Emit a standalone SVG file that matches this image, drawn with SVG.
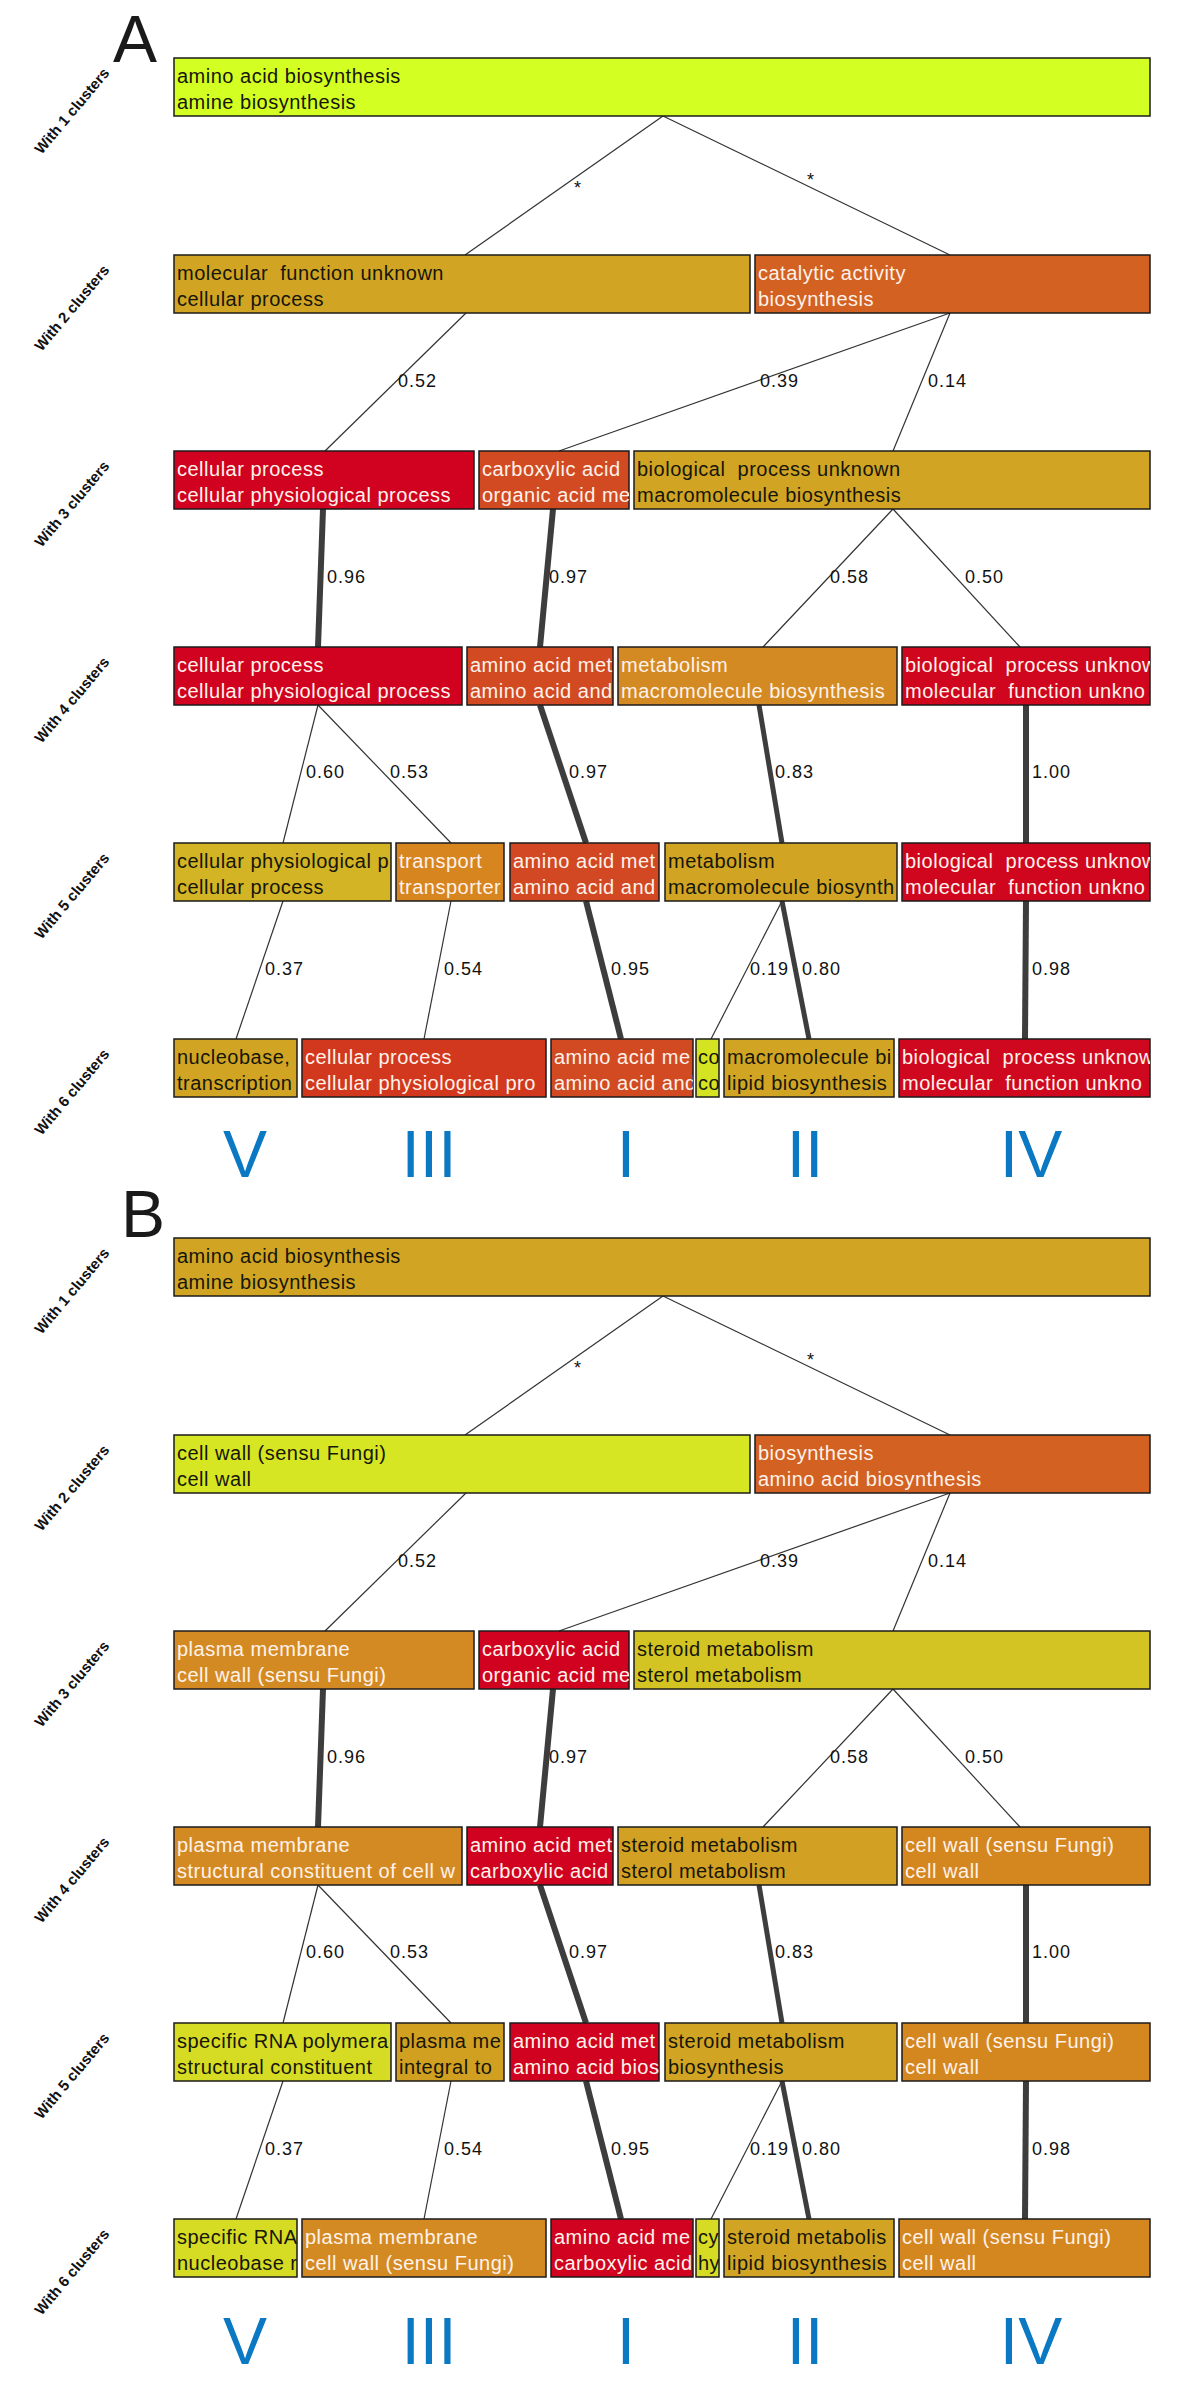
<svg xmlns="http://www.w3.org/2000/svg" width="1200" height="2381" viewBox="0 0 1200 2381">
<style>
.n rect{stroke:#1b1b1b;stroke-width:1.5}
.t{font-family:"Liberation Sans",Arial,sans-serif;font-size:20px;letter-spacing:0.5px;white-space:pre}
.w{fill:#fff2ea}
.d{fill:#16160a}
.thin{stroke:#333;stroke-width:1.2;fill:none}
.thick{stroke:#3d3d3d;stroke-width:6;fill:none}
.mid{stroke:#3d3d3d;stroke-width:5;fill:none}
.e{font-family:"Liberation Sans",Arial,sans-serif;font-size:18px;letter-spacing:1px;fill:#111}
.rl{font-family:"Liberation Sans",Arial,sans-serif;font-size:15px;font-weight:bold;fill:#111;text-anchor:middle}
.big{font-family:"Liberation Sans",Arial,sans-serif;font-size:66px;fill:#1a1a1a}
.rom{font-family:"Liberation Sans",Arial,sans-serif;font-size:66px;fill:#0a78c2;text-anchor:middle}
</style>

<!-- Panel labels -->
<text class="big" x="113" y="62">A</text>
<text class="big" x="121" y="1237">B</text>

<!-- Row labels A -->
<g id="rowlabels-A">
<g transform="translate(72,111) rotate(-50)"><text class="rl" y="5">With 1 clusters</text></g>
<g transform="translate(72,308) rotate(-50)"><text class="rl" y="5">With 2 clusters</text></g>
<g transform="translate(72,504) rotate(-50)"><text class="rl" y="5">With 3 clusters</text></g>
<g transform="translate(72,700) rotate(-50)"><text class="rl" y="5">With 4 clusters</text></g>
<g transform="translate(72,896) rotate(-50)"><text class="rl" y="5">With 5 clusters</text></g>
<g transform="translate(72,1092) rotate(-50)"><text class="rl" y="5">With 6 clusters</text></g>
</g>
<g id="rowlabels-B" transform="translate(0,1180)">
<g transform="translate(72,111) rotate(-50)"><text class="rl" y="5">With 1 clusters</text></g>
<g transform="translate(72,308) rotate(-50)"><text class="rl" y="5">With 2 clusters</text></g>
<g transform="translate(72,504) rotate(-50)"><text class="rl" y="5">With 3 clusters</text></g>
<g transform="translate(72,700) rotate(-50)"><text class="rl" y="5">With 4 clusters</text></g>
<g transform="translate(72,896) rotate(-50)"><text class="rl" y="5">With 5 clusters</text></g>
<g transform="translate(72,1092) rotate(-50)"><text class="rl" y="5">With 6 clusters</text></g>
</g>

<!-- Connectors A -->
<g id="connectors-A">
<line class="thin" x1="663" y1="116" x2="465" y2="255"/>
<line class="thin" x1="663" y1="116" x2="950" y2="255"/>
<line class="thin" x1="466" y1="313" x2="325" y2="451"/>
<line class="thin" x1="950" y1="313" x2="559" y2="451"/>
<line class="thin" x1="950" y1="313" x2="893" y2="451"/>
<line class="thick" x1="323" y1="509" x2="318" y2="647"/>
<line class="thick" x1="553" y1="509" x2="540" y2="647"/>
<line class="thin" x1="893" y1="509" x2="763" y2="647"/>
<line class="thin" x1="893" y1="509" x2="1020" y2="647"/>
<line class="thin" x1="318" y1="705" x2="283" y2="843"/>
<line class="thin" x1="318" y1="705" x2="451" y2="843"/>
<line class="thick" x1="540" y1="705" x2="586" y2="843"/>
<line class="mid" x1="759" y1="705" x2="782" y2="843"/>
<line class="thick" x1="1026" y1="705" x2="1026" y2="843"/>
<line class="thin" x1="283" y1="901" x2="236" y2="1039"/>
<line class="thin" x1="451" y1="901" x2="424" y2="1039"/>
<line class="thick" x1="586" y1="901" x2="621" y2="1039"/>
<line class="thin" x1="782" y1="901" x2="711" y2="1039"/>
<line class="mid" x1="782" y1="901" x2="809" y2="1039"/>
<line class="thick" x1="1026" y1="901" x2="1025" y2="1039"/>
<text class="e" x="574" y="194">*</text>
<text class="e" x="807" y="186">*</text>
<text class="e" x="398" y="387">0.52</text>
<text class="e" x="760" y="387">0.39</text>
<text class="e" x="928" y="387">0.14</text>
<text class="e" x="327" y="583">0.96</text>
<text class="e" x="549" y="583">0.97</text>
<text class="e" x="830" y="583">0.58</text>
<text class="e" x="965" y="583">0.50</text>
<text class="e" x="306" y="778">0.60</text>
<text class="e" x="390" y="778">0.53</text>
<text class="e" x="569" y="778">0.97</text>
<text class="e" x="775" y="778">0.83</text>
<text class="e" x="1032" y="778">1.00</text>
<text class="e" x="265" y="975">0.37</text>
<text class="e" x="444" y="975">0.54</text>
<text class="e" x="611" y="975">0.95</text>
<text class="e" x="750" y="975">0.19</text>
<text class="e" x="802" y="975">0.80</text>
<text class="e" x="1032" y="975">0.98</text>
</g>

<!-- Connectors B -->
<g id="connectors-B" transform="translate(0,1180)">
<line class="thin" x1="663" y1="116" x2="465" y2="255"/>
<line class="thin" x1="663" y1="116" x2="950" y2="255"/>
<line class="thin" x1="466" y1="313" x2="325" y2="451"/>
<line class="thin" x1="950" y1="313" x2="559" y2="451"/>
<line class="thin" x1="950" y1="313" x2="893" y2="451"/>
<line class="thick" x1="323" y1="509" x2="318" y2="647"/>
<line class="thick" x1="553" y1="509" x2="540" y2="647"/>
<line class="thin" x1="893" y1="509" x2="763" y2="647"/>
<line class="thin" x1="893" y1="509" x2="1020" y2="647"/>
<line class="thin" x1="318" y1="705" x2="283" y2="843"/>
<line class="thin" x1="318" y1="705" x2="451" y2="843"/>
<line class="thick" x1="540" y1="705" x2="586" y2="843"/>
<line class="mid" x1="759" y1="705" x2="782" y2="843"/>
<line class="thick" x1="1026" y1="705" x2="1026" y2="843"/>
<line class="thin" x1="283" y1="901" x2="236" y2="1039"/>
<line class="thin" x1="451" y1="901" x2="424" y2="1039"/>
<line class="thick" x1="586" y1="901" x2="621" y2="1039"/>
<line class="thin" x1="782" y1="901" x2="711" y2="1039"/>
<line class="mid" x1="782" y1="901" x2="809" y2="1039"/>
<line class="thick" x1="1026" y1="901" x2="1025" y2="1039"/>
<text class="e" x="574" y="194">*</text>
<text class="e" x="807" y="186">*</text>
<text class="e" x="398" y="387">0.52</text>
<text class="e" x="760" y="387">0.39</text>
<text class="e" x="928" y="387">0.14</text>
<text class="e" x="327" y="583">0.96</text>
<text class="e" x="549" y="583">0.97</text>
<text class="e" x="830" y="583">0.58</text>
<text class="e" x="965" y="583">0.50</text>
<text class="e" x="306" y="778">0.60</text>
<text class="e" x="390" y="778">0.53</text>
<text class="e" x="569" y="778">0.97</text>
<text class="e" x="775" y="778">0.83</text>
<text class="e" x="1032" y="778">1.00</text>
<text class="e" x="265" y="975">0.37</text>
<text class="e" x="444" y="975">0.54</text>
<text class="e" x="611" y="975">0.95</text>
<text class="e" x="750" y="975">0.19</text>
<text class="e" x="802" y="975">0.80</text>
<text class="e" x="1032" y="975">0.98</text>
</g>

<!-- Nodes A -->
<g id="nodes-A">
<g id="A-r1-1" class="n"><rect x="174" y="58" width="976" height="58" fill="#d4ff22"/><svg x="174" y="58" width="976" height="58"><text class="t d" x="3" y="25">amino acid biosynthesis</text><text class="t d" x="3" y="51">amine biosynthesis</text></svg></g>

<g id="A-r2-1" class="n"><rect x="174" y="255" width="576" height="58" fill="#d1a523"/><svg x="174" y="255" width="576" height="58"><text class="t d" x="3" y="25">molecular  function unknown</text><text class="t d" x="3" y="51">cellular process</text></svg></g>
<g id="A-r2-2" class="n"><rect x="755" y="255" width="395" height="58" fill="#d26122"/><svg x="755" y="255" width="395" height="58"><text class="t w" x="3" y="25">catalytic activity</text><text class="t w" x="3" y="51">biosynthesis</text></svg></g>

<g id="A-r3-1" class="n"><rect x="174" y="451" width="300" height="58" fill="#d0021f"/><svg x="174" y="451" width="300" height="58"><text class="t w" x="3" y="25">cellular process</text><text class="t w" x="3" y="51">cellular physiological process</text></svg></g>
<g id="A-r3-2" class="n"><rect x="479" y="451" width="150" height="58" fill="#d24a22"/><svg x="479" y="451" width="150" height="58"><text class="t w" x="3" y="25">carboxylic acid</text><text class="t w" x="3" y="51">organic acid me</text></svg></g>
<g id="A-r3-3" class="n"><rect x="634" y="451" width="516" height="58" fill="#d1a523"/><svg x="634" y="451" width="516" height="58"><text class="t d" x="3" y="25">biological  process unknown</text><text class="t d" x="3" y="51">macromolecule biosynthesis</text></svg></g>

<g id="A-r4-1" class="n"><rect x="174" y="647" width="288" height="58" fill="#d0021f"/><svg x="174" y="647" width="288" height="58"><text class="t w" x="3" y="25">cellular process</text><text class="t w" x="3" y="51">cellular physiological process</text></svg></g>
<g id="A-r4-2" class="n"><rect x="467" y="647" width="146" height="58" fill="#d24a22"/><svg x="467" y="647" width="146" height="58"><text class="t w" x="3" y="25">amino acid met</text><text class="t w" x="3" y="51">amino acid and</text></svg></g>
<g id="A-r4-3" class="n"><rect x="618" y="647" width="279" height="58" fill="#d48a22"/><svg x="618" y="647" width="279" height="58"><text class="t w" x="3" y="25">metabolism</text><text class="t w" x="3" y="51">macromolecule biosynthesis</text></svg></g>
<g id="A-r4-4" class="n"><rect x="902" y="647" width="248" height="58" fill="#d0061f"/><svg x="902" y="647" width="248" height="58"><text class="t w" x="3" y="25">biological  process unknow</text><text class="t w" x="3" y="51">molecular  function unkno</text></svg></g>

<g id="A-r5-1" class="n"><rect x="174" y="843" width="217" height="58" fill="#d2b424"/><svg x="174" y="843" width="217" height="58"><text class="t d" x="3" y="25">cellular physiological p</text><text class="t d" x="3" y="51">cellular process</text></svg></g>
<g id="A-r5-2" class="n"><rect x="396" y="843" width="108" height="58" fill="#d6851f"/><svg x="396" y="843" width="108" height="58"><text class="t w" x="3" y="25">transport</text><text class="t w" x="3" y="51">transporter</text></svg></g>
<g id="A-r5-3" class="n"><rect x="510" y="843" width="149" height="58" fill="#d24822"/><svg x="510" y="843" width="149" height="58"><text class="t w" x="3" y="25">amino acid met</text><text class="t w" x="3" y="51">amino acid and</text></svg></g>
<g id="A-r5-4" class="n"><rect x="665" y="843" width="232" height="58" fill="#d1a523"/><svg x="665" y="843" width="232" height="58"><text class="t d" x="3" y="25">metabolism</text><text class="t d" x="3" y="51">macromolecule biosynth</text></svg></g>
<g id="A-r5-5" class="n"><rect x="902" y="843" width="248" height="58" fill="#d0061f"/><svg x="902" y="843" width="248" height="58"><text class="t w" x="3" y="25">biological  process unknow</text><text class="t w" x="3" y="51">molecular  function unkno</text></svg></g>

<g id="A-r6-1" class="n"><rect x="174" y="1039" width="123" height="58" fill="#d1a523"/><svg x="174" y="1039" width="123" height="58"><text class="t d" x="3" y="25">nucleobase,</text><text class="t d" x="3" y="51">transcription</text></svg></g>
<g id="A-r6-2" class="n"><rect x="302" y="1039" width="244" height="58" fill="#d2381e"/><svg x="302" y="1039" width="244" height="58"><text class="t w" x="3" y="25">cellular process</text><text class="t w" x="3" y="51">cellular physiological pro</text></svg></g>
<g id="A-r6-3" class="n"><rect x="551" y="1039" width="142" height="58" fill="#d24a22"/><svg x="551" y="1039" width="142" height="58"><text class="t w" x="3" y="25">amino acid me</text><text class="t w" x="3" y="51">amino acid and</text></svg></g>
<g id="A-r6-4" class="n"><rect x="696" y="1039" width="23" height="58" fill="#d4e322"/><svg x="696" y="1039" width="23" height="58"><text class="t d" x="2" y="25">co</text><text class="t d" x="2" y="51">co</text></svg></g>
<g id="A-r6-5" class="n"><rect x="724" y="1039" width="170" height="58" fill="#d1a523"/><svg x="724" y="1039" width="170" height="58"><text class="t d" x="3" y="25">macromolecule bi</text><text class="t d" x="3" y="51">lipid biosynthesis</text></svg></g>
<g id="A-r6-6" class="n"><rect x="899" y="1039" width="251" height="58" fill="#d0081f"/><svg x="899" y="1039" width="251" height="58"><text class="t w" x="3" y="25">biological  process unknow</text><text class="t w" x="3" y="51">molecular  function unkno</text></svg></g>
</g>

<!-- Nodes B -->
<g id="nodes-B">
<g id="B-r1-1" class="n"><rect x="174" y="1238" width="976" height="58" fill="#d1a523"/><svg x="174" y="1238" width="976" height="58"><text class="t d" x="3" y="25">amino acid biosynthesis</text><text class="t d" x="3" y="51">amine biosynthesis</text></svg></g>

<g id="B-r2-1" class="n"><rect x="174" y="1435" width="576" height="58" fill="#d6e622"/><svg x="174" y="1435" width="576" height="58"><text class="t d" x="3" y="25">cell wall (sensu Fungi)</text><text class="t d" x="3" y="51">cell wall</text></svg></g>
<g id="B-r2-2" class="n"><rect x="755" y="1435" width="395" height="58" fill="#d26122"/><svg x="755" y="1435" width="395" height="58"><text class="t w" x="3" y="25">biosynthesis</text><text class="t w" x="3" y="51">amino acid biosynthesis</text></svg></g>

<g id="B-r3-1" class="n"><rect x="174" y="1631" width="300" height="58" fill="#d48a22"/><svg x="174" y="1631" width="300" height="58"><text class="t w" x="3" y="25">plasma membrane</text><text class="t w" x="3" y="51">cell wall (sensu Fungi)</text></svg></g>
<g id="B-r3-2" class="n"><rect x="479" y="1631" width="150" height="58" fill="#d0021f"/><svg x="479" y="1631" width="150" height="58"><text class="t w" x="3" y="25">carboxylic acid</text><text class="t w" x="3" y="51">organic acid me</text></svg></g>
<g id="B-r3-3" class="n"><rect x="634" y="1631" width="516" height="58" fill="#d4c423"/><svg x="634" y="1631" width="516" height="58"><text class="t d" x="3" y="25">steroid metabolism</text><text class="t d" x="3" y="51">sterol metabolism</text></svg></g>

<g id="B-r4-1" class="n"><rect x="174" y="1827" width="288" height="58" fill="#d48a22"/><svg x="174" y="1827" width="288" height="58"><text class="t w" x="3" y="25">plasma membrane</text><text class="t w" x="3" y="51">structural constituent of cell w</text></svg></g>
<g id="B-r4-2" class="n"><rect x="467" y="1827" width="146" height="58" fill="#d0021f"/><svg x="467" y="1827" width="146" height="58"><text class="t w" x="3" y="25">amino acid met</text><text class="t w" x="3" y="51">carboxylic acid</text></svg></g>
<g id="B-r4-3" class="n"><rect x="618" y="1827" width="279" height="58" fill="#d2a022"/><svg x="618" y="1827" width="279" height="58"><text class="t d" x="3" y="25">steroid metabolism</text><text class="t d" x="3" y="51">sterol metabolism</text></svg></g>
<g id="B-r4-4" class="n"><rect x="902" y="1827" width="248" height="58" fill="#d4861f"/><svg x="902" y="1827" width="248" height="58"><text class="t w" x="3" y="25">cell wall (sensu Fungi)</text><text class="t w" x="3" y="51">cell wall</text></svg></g>

<g id="B-r5-1" class="n"><rect x="174" y="2023" width="217" height="58" fill="#d6dc24"/><svg x="174" y="2023" width="217" height="58"><text class="t d" x="3" y="25">specific RNA polymera</text><text class="t d" x="3" y="51">structural constituent</text></svg></g>
<g id="B-r5-2" class="n"><rect x="396" y="2023" width="108" height="58" fill="#d2a020"/><svg x="396" y="2023" width="108" height="58"><text class="t d" x="3" y="25">plasma me</text><text class="t d" x="3" y="51">integral to</text></svg></g>
<g id="B-r5-3" class="n"><rect x="510" y="2023" width="149" height="58" fill="#d0021f"/><svg x="510" y="2023" width="149" height="58"><text class="t w" x="3" y="25">amino acid met</text><text class="t w" x="3" y="51">amino acid bios</text></svg></g>
<g id="B-r5-4" class="n"><rect x="665" y="2023" width="232" height="58" fill="#d1a523"/><svg x="665" y="2023" width="232" height="58"><text class="t d" x="3" y="25">steroid metabolism</text><text class="t d" x="3" y="51">biosynthesis</text></svg></g>
<g id="B-r5-5" class="n"><rect x="902" y="2023" width="248" height="58" fill="#d4861f"/><svg x="902" y="2023" width="248" height="58"><text class="t w" x="3" y="25">cell wall (sensu Fungi)</text><text class="t w" x="3" y="51">cell wall</text></svg></g>

<g id="B-r6-1" class="n"><rect x="174" y="2219" width="123" height="58" fill="#d6dc24"/><svg x="174" y="2219" width="123" height="58"><text class="t d" x="3" y="25">specific RNA</text><text class="t d" x="3" y="51">nucleobase r</text></svg></g>
<g id="B-r6-2" class="n"><rect x="302" y="2219" width="244" height="58" fill="#d48a22"/><svg x="302" y="2219" width="244" height="58"><text class="t w" x="3" y="25">plasma membrane</text><text class="t w" x="3" y="51">cell wall (sensu Fungi)</text></svg></g>
<g id="B-r6-3" class="n"><rect x="551" y="2219" width="142" height="58" fill="#d0021f"/><svg x="551" y="2219" width="142" height="58"><text class="t w" x="3" y="25">amino acid me</text><text class="t w" x="3" y="51">carboxylic acid</text></svg></g>
<g id="B-r6-4" class="n"><rect x="696" y="2219" width="23" height="58" fill="#d6dc24"/><svg x="696" y="2219" width="23" height="58"><text class="t d" x="2" y="25">cy</text><text class="t d" x="2" y="51">hy</text></svg></g>
<g id="B-r6-5" class="n"><rect x="724" y="2219" width="170" height="58" fill="#d1a523"/><svg x="724" y="2219" width="170" height="58"><text class="t d" x="3" y="25">steroid metabolis</text><text class="t d" x="3" y="51">lipid biosynthesis</text></svg></g>
<g id="B-r6-6" class="n"><rect x="899" y="2219" width="251" height="58" fill="#d4861f"/><svg x="899" y="2219" width="251" height="58"><text class="t w" x="3" y="25">cell wall (sensu Fungi)</text><text class="t w" x="3" y="51">cell wall</text></svg></g>
</g>

<!-- Cluster numerals -->
<g id="numerals-A">
<text class="rom" x="245" y="1177">V</text>
<text class="rom" x="429" y="1177">III</text>
<text class="rom" x="626" y="1177">I</text>
<text class="rom" x="805" y="1177">II</text>
<text class="rom" x="1031" y="1177">IV</text>
</g>
<g id="numerals-B">
<text class="rom" x="245" y="2364">V</text>
<text class="rom" x="429" y="2364">III</text>
<text class="rom" x="626" y="2364">I</text>
<text class="rom" x="805" y="2364">II</text>
<text class="rom" x="1031" y="2364">IV</text>
</g>
</svg>
